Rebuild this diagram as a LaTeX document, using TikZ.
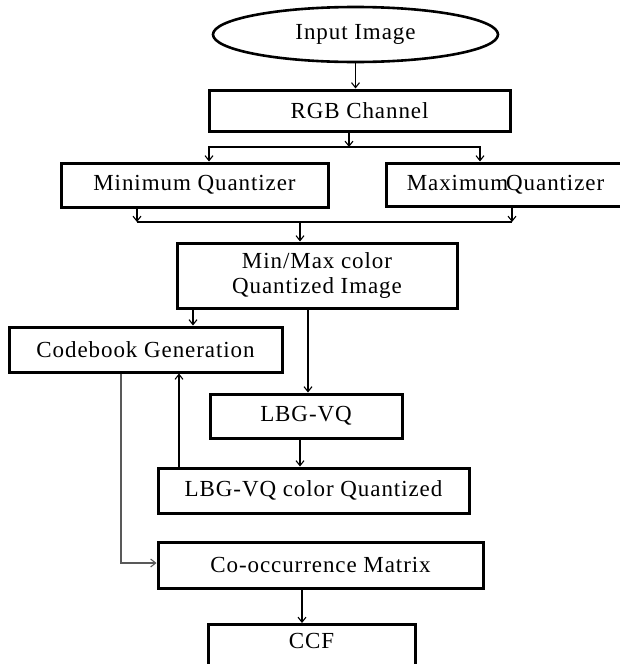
\documentclass[tikz,border=0pt]{standalone}
\usepackage{fontspec}
\setmainfont[LetterSpace=4]{Liberation Serif}
\usetikzlibrary{shapes.geometric,arrows.meta}

\begin{document}
\begin{tikzpicture}[x=1pt, y=-1pt,
    block/.style={draw, line width=3pt, inner sep=2pt, align=center,
        font=\fontsize{23}{25}\selectfont},
    terminal/.style={ellipse, draw, line width=2.6pt, inner sep=2pt,
        font=\fontsize{23}{25}\selectfont},
    link/.style={-{Straight Barb[length=5pt,width=8pt]}, line width=1.1pt}]

    \useasboundingbox (0,0) rectangle (620,664);
    \clip (0,0) rectangle (620,664);

    \node [terminal, minimum width=285, minimum height=55] (input) at (355.5,34.5) {Input Image};

    \node [block, minimum width=301, minimum height=41] (rgb) at (359.5,110.5) {RGB Channel};

    \node [block, minimum width=267, minimum height=44] (minq) at (194.5,185) {Minimum Quantizer};
    \node [block, minimum width=239, minimum height=43] (maxq) at (505.5,184.5) {Maximum\hspace{-2pt}Quantizer};

    \node [block, minimum width=280, minimum height=65] (minmax) at (317,275.5) {Min/Max color\\Quantized Image};

    \node [block, minimum width=273, minimum height=45] (code) at (145.5,349.5) {Codebook Generation};

    \node [block, minimum width=192, minimum height=44] (lbg) at (306,416) {LBG-VQ};

    \node [block, minimum width=311, minimum height=45] (lbgc) at (313.5,490.5) {LBG-VQ color Quantized};

    \node [block, minimum width=325, minimum height=46] (cooc) at (320.5,565) {Co-occurrence Matrix};

    \node [block, anchor=north, minimum width=207, text height=22, text depth=25] (ccf) at (311.5,623) {CCF};

    \draw [link] (input.south) -- (input.south |- rgb.north);

    \coordinate (split) at (349,147);
    \draw [link] (rgb.south -| split) -- (split);
    \draw [link] (split) -| ([xshift=14.5]minq.north);
    \draw [link] (split) -| ([xshift=-25.5]maxq.north);

    \coordinate (merge) at (300,222);
    \draw [link] ([xshift=-57.5]minq.south) -- ([xshift=-57.5]minq.south |- merge);
    \draw [link] ([xshift=6.5]maxq.south) -- ([xshift=6.5]maxq.south |- merge);
    \draw [line width=1.1pt] ([xshift=-57.5]minq.south |- merge) -- ([xshift=6.5]maxq.south |- merge);
    \draw [link] (merge) -- (merge |- minmax.north);

    \draw [link] ([xshift=47.5]code.north |- minmax.south) -- ([xshift=47.5]code.north);
    \draw [link] ([xshift=2]lbg.north |- minmax.south) -- ([xshift=2]lbg.north);

    \draw [link] ([xshift=-6]lbg.south) -- ([xshift=-6]lbg.south |- lbgc.north);
    \draw [link] ([xshift=-134.5]lbgc.north) -- ([xshift=-134.5]lbgc.north |- code.south);

    \draw [link, gray!70!black] ([xshift=-24.5]code.south) |- ([yshift=2]cooc.west);

    \draw [link] ([xshift=-9.5]ccf.north |- cooc.south) -- ([xshift=-9.5]ccf.north);

\end{tikzpicture}
\end{document}
